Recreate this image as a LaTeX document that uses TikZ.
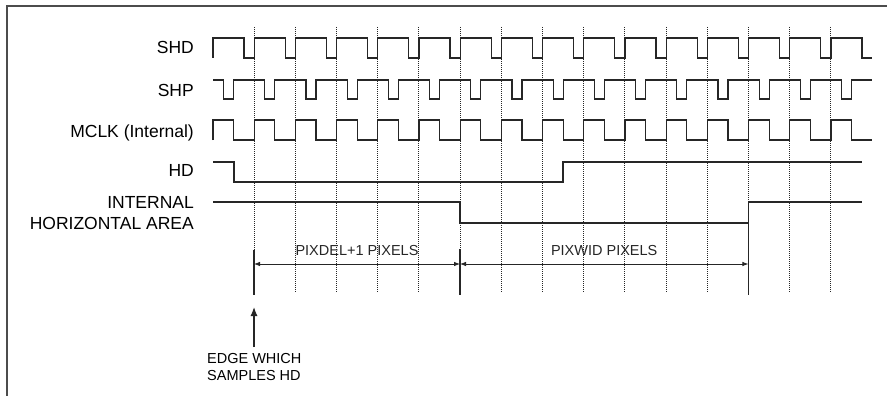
\documentclass[tikz,border=0pt]{standalone}
\usepackage{fontspec}
\setmainfont{Liberation Sans}
\usetikzlibrary{arrows.meta, positioning}
\tikzstyle{wave} = [line width=1.2pt, black!85]
\tikzstyle{sample} = [line width=0.7pt, black!85, dash pattern=on 1pt off 1pt]
\tikzstyle{marker} = [line width=1.2pt, black!85]
\tikzstyle{dim} = [line width=0.8pt, black!85, {Latex[length=6pt,width=4.5pt]}-{Latex[length=6pt,width=4.5pt]}]
\tikzstyle{signame} = [font=\fontsize{17.5}{21}\selectfont, anchor=base east, inner sep=0pt, align=right]
\tikzstyle{note} = [font=\fontsize{14.5}{17}\selectfont, inner sep=0pt]

\begin{document}
\begin{tikzpicture}[x=1pt, y=-1pt]
    \useasboundingbox (0,0) rectangle (887,396);
    \fill [white] (0,0) rectangle (887,396);
    \draw [line width=2pt, black!70] (7,396) -- (7,6) -- (887,6);

    % sampling edges
    \foreach \k in {0,...,14}
        \draw [sample] ({254+41.2*\k},27) -- ({254+41.2*\k},293);

    % signal names
    \node (shd) [signame] at (194,54) {SHD};
    \node (shp) [signame] at (194,96.5) {SHP};
    \node (mclk) [signame] at (194,137) {MCLK (Internal)};
    \node (hd) [signame] at (194,176.5) {HD};
    \node (iha) [signame] at (194,229) {INTERNAL\\HORIZONTAL AREA};

    % waveforms
    \draw [wave] (213,58) \foreach \k in {0,...,15} { -- ++(0,-20) -- ++(31,0) -- ++(0,20) -- ++(10.2,0) };
    \draw [wave] (213,80) \foreach \k in {0,...,15} { -- ++(10.5,0) -- ++(0,19) -- ++(10,0) -- ++(0,-19) -- ++(20.7,0) };
    \draw [wave] (213,140) \foreach \k in {0,...,15} { -- ++(0,-20) -- ++(20.6,0) -- ++(0,20) -- ++(20.6,0) };
    \draw [wave] (213,162) -- (234,162) -- (234,182) -- (563,182) -- (563,162) -- (862,162);
    \draw [wave] (213,202) -- (460,202) -- (460,223) -- (748.4,223) -- (748.4,202) -- (862,202);

    % pixel counts
    \coordinate (d0) at (254,264);
    \coordinate (d1) at (460,264);
    \coordinate (d2) at (748.4,264);
    \draw [marker] (254,250) -- (254,295);
    \draw [marker] (460,249) -- (460,295);
    \draw [marker] (748.4,223) -- (748.4,295);
    \draw [dim] (d0) -- (d1) node[midway, above=8pt, note] {PIXDEL+1 PIXELS};
    \draw [dim] (d1) -- (d2) node[midway, above=8pt, note] {PIXWID PIXELS};

    % sampling edge note
    \node (edge) [note, anchor=north west, align=left] at (207,353) {EDGE WHICH\\SAMPLES HD};
    \coordinate (tail) at (254,347);
    \coordinate (tip) at (254,307);
    \draw [line width=1.2pt, black!85, -{Latex[length=9pt,width=7pt]}] (tail) -- (tip);
\end{tikzpicture}
\end{document}
